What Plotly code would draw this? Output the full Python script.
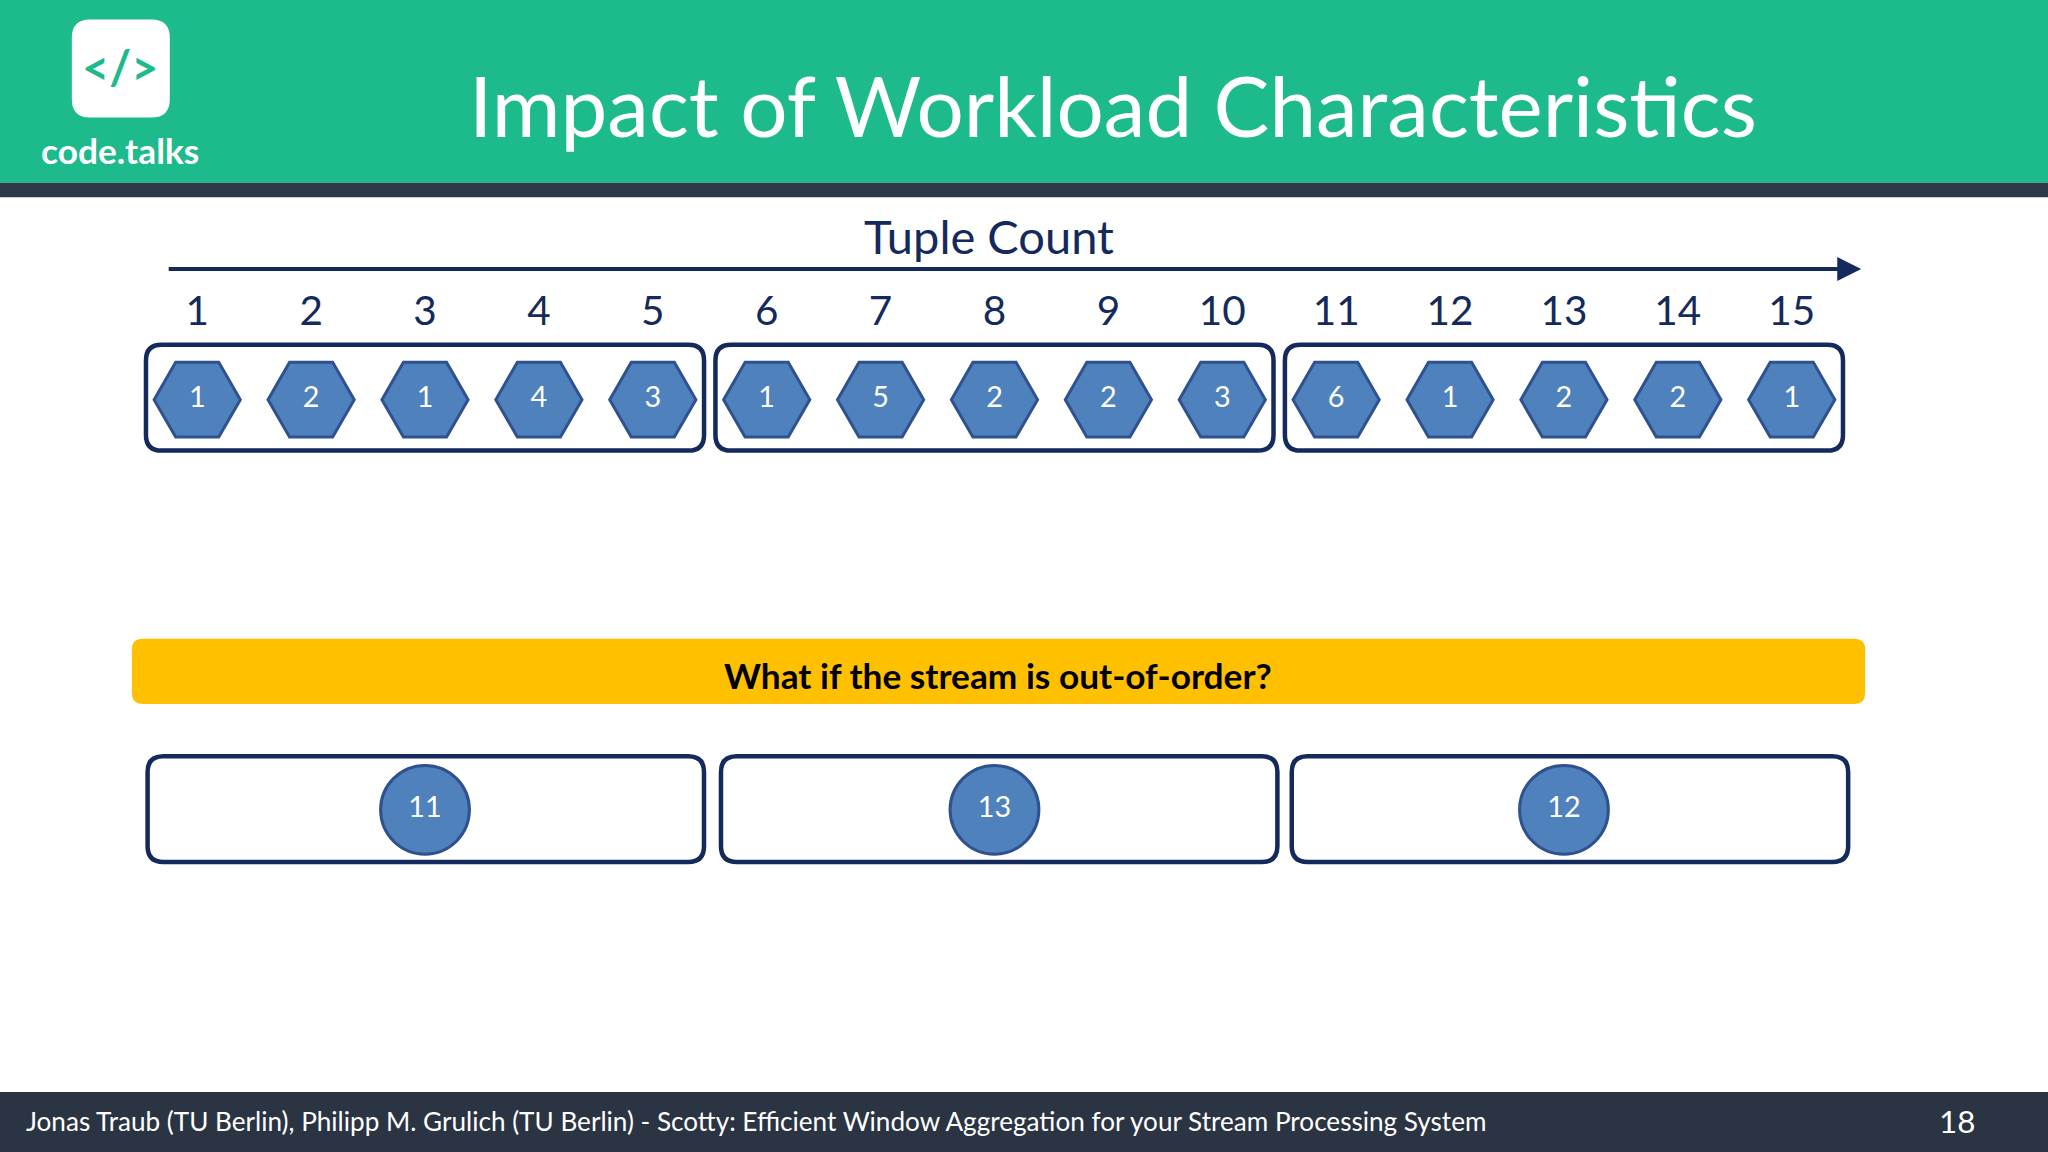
import plotly.graph_objects as go

tuple_idx = list(range(1, 16))
tuple_vals = [1, 2, 1, 4, 3, 1, 5, 2, 2, 3, 6, 1, 2, 2, 1]
windows = [(1, 5), (6, 10), (11, 15)]
late_vals = [11, 13, 12]
late_pos = [3, 8, 13]

W, H = 1568, 882
S = 2048 / W
STEP = 87.2
X0 = 151
def tx(p):  # ref pixel -> tuple units
    return 1 + (p - X0) / STEP

NAVY = "#142A5C"
BLUE = "#4F81BD"
BORDER = "#2F528F"
FONT = "Lato, Open Sans, sans-serif"

fig = go.Figure()

def rrect(x0, y0, x1, y1, r, color, lw, fill="rgba(0,0,0,0)", paper=False):
    if paper:
        xs = lambda v: v / W
        rx = r / W
    else:
        xs = tx
        rx = r / STEP
    a, b = xs(x0), xs(x1)
    p = (f"M {a+rx},{y0} L {b-rx},{y0} Q {b},{y0} {b},{y0+r} L {b},{y1-r} Q {b},{y1} {b-rx},{y1} "
         f"L {a+rx},{y1} Q {a},{y1} {a},{y1-r} L {a},{y0+r} Q {a},{y0} {a+rx},{y0} Z")
    fig.add_shape(type="path", path=p, xref="paper" if paper else "x", yref="y",
                  line=dict(color=color, width=lw), fillcolor=fill, layer="below")

fig.add_shape(type="rect", xref="paper", yref="y", x0=0, x1=1, y0=0, y1=140, fillcolor="#1DBA8B", line_width=0, layer="below")
fig.add_shape(type="rect", xref="paper", yref="y", x0=0, x1=1, y0=140, y1=151, fillcolor="#2E3A48", line_width=0, layer="below")
fig.add_shape(type="rect", xref="paper", yref="y", x0=0, x1=1, y0=836, y1=882, fillcolor="#2B3442", line_width=0, layer="below")
rrect(55, 15, 130, 90, 14, "white", 0, fill="white", paper=True)
rrect(101, 489, 1428, 539, 8, "#FFC000", 0, fill="#FFC000", paper=True)

for (a, b) in windows:
    rrect(151 + (a - 1.45) * STEP, 264, 151 + (b - 0.55) * STEP, 345, 12, NAVY, 4.5)
lower = [(113, 539), (552, 978), (989, 1415)]
for (a, b) in lower:
    rrect(a, 579, b, 660, 12, NAVY, 4.5)

fig.add_annotation(x=tx(1425), y=206, ax=tx(128), ay=206, xref="x", yref="y", axref="x", ayref="y",
                   showarrow=True, arrowhead=2, arrowsize=1.2, arrowwidth=4, arrowcolor=NAVY, text="")

texts = [
    (757, 181, "Tuple Count", 36, NAVY, False),
    (852, 80, "Impact of Workload Characteristics", 64, "white", False),
    (92, 115, "code.talks", 27, "white", True),
    (92, 51, "&lt;/&gt;", 36, "#1DBA8B", True),
    (764, 517, "What if the stream is out-of-order?", 27, "black", True),
    (1498, 858, "18", 24, "white", False),
]
for x, y, t, fs, c, bold in texts:
    fig.add_annotation(x=x / W, y=y, xref="paper", yref="y", xanchor="center", yanchor="middle",
                       text=f"<b>{t}</b>" if bold else t,
                       showarrow=False, font=dict(family=FONT, size=fs * S, color=c))
fig.add_annotation(x=18 / W, y=858, xref="paper", yref="y", xanchor="left", showarrow=False,
                   text="Jonas Traub (TU Berlin), Philipp M. Grulich (TU Berlin) - Scotty: Efficient Window Aggregation for your Stream Processing System",
                   font=dict(family=FONT, size=20 * S, color="white"))

fig.add_trace(go.Scatter(x=tuple_idx, y=[241] * 15, mode="text", text=[str(i) for i in tuple_idx],
                         textfont=dict(family=FONT, size=31 * S, color=NAVY), hoverinfo="skip"))
fig.add_trace(go.Scatter(x=tuple_idx, y=[306] * 15, mode="markers+text", text=[str(v) for v in tuple_vals],
                         marker=dict(symbol="hexagon2", size=66 * S, color=BLUE, line=dict(color=BORDER, width=3)),
                         textfont=dict(family=FONT, size=22 * S, color="white"), hoverinfo="skip"))
fig.add_trace(go.Scatter(x=late_pos, y=[620] * 3, mode="markers+text", text=[str(v) for v in late_vals],
                         marker=dict(symbol="circle", size=68 * S, color=BLUE, line=dict(color=BORDER, width=3)),
                         textfont=dict(family=FONT, size=22 * S, color="white"), hoverinfo="skip"))

fig.update_layout(width=2048, height=1152, margin=dict(l=0, r=0, t=0, b=0), showlegend=False,
                  plot_bgcolor="white", paper_bgcolor="white",
                  xaxis=dict(range=[tx(0), tx(W)], visible=False, fixedrange=True),
                  yaxis=dict(range=[H, 0], visible=False, fixedrange=True))
fig.write_html("out.html", config={"displayModeBar": False},
               post_script="document.body.style.margin='0';document.body.style.overflow='hidden';")
